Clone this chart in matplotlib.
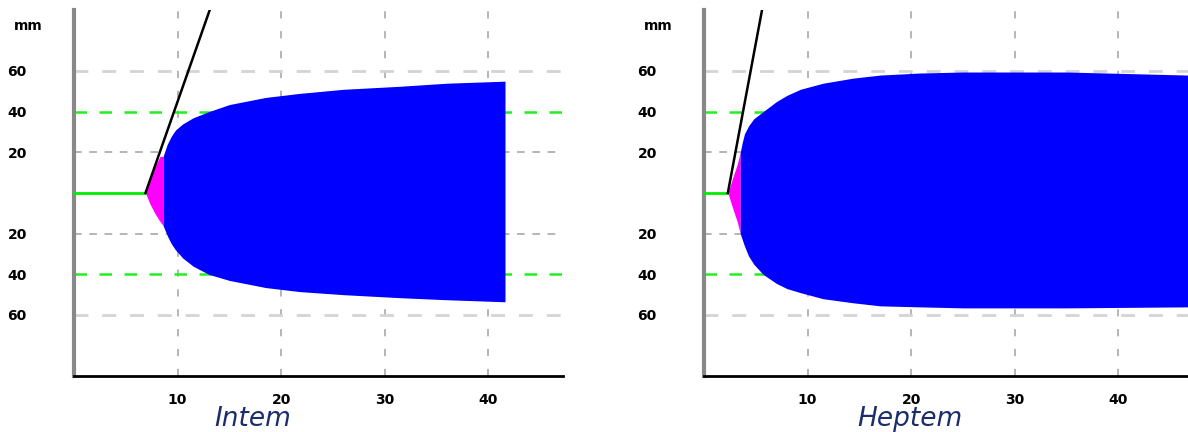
import numpy as np
import matplotlib.pyplot as plt

# panel names
names = ['Intem', 'Heptem']

# start of the envelope (mm along x) and the black line end at the top
start_x = [6.9, 2.3]
line_top_x = [13.1, 5.6]
pink_end = [8.6, 3.5]

# envelope, left panel
x_a = [6.9, 7.3, 7.8, 8.3, 8.6, 9.0, 9.4, 9.8, 10.5, 11.5, 13.0, 15.0, 18.5, 21.8, 26.0, 31.5, 36.0, 41.6]
top_a = [0, 6, 13, 18, 18, 24, 28, 31, 34, 37, 40, 43.5, 47, 49, 51, 52.5, 54, 55]
bot_a = [0, -5, -10, -14, -16, -21, -25, -28, -32, -36, -40, -43, -46.5, -48.5, -50, -51.5, -52.5, -53.5]

# envelope, right panel
x_b = [2.3, 2.8, 3.2, 3.5, 3.7, 3.9, 4.3, 4.8, 5.7, 7.0, 8.0, 9.3, 11.5, 14.4, 17.0, 20.8, 25.0, 35.0, 46.7]
top_b = [0, 8, 14, 20, 25, 29, 33, 36.5, 40, 45, 48, 51, 54, 56.5, 58, 59, 59.5, 59.5, 58]
bot_b = [0, -8, -14, -20, -23, -26, -31, -35, -40, -44.5, -47, -49, -52, -54, -55.5, -56, -56.5, -56.5, -56]

xs = [x_a, x_b]
tops = [top_a, top_b]
bots = [bot_a, bot_b]

yticks = [-60, -40, -20, 20, 40, 60]
xticks = [10, 20, 30, 40]

fig = plt.figure(figsize=(11.88, 4.32), dpi=100)
lefts = [74 / 1188, 704 / 1188]
w = 489 / 1188
title_x = [253 / 1188, 910 / 1188]

for i in range(2):
    ax = fig.add_axes([lefts[i], 56 / 432, w, 366 / 432])
    ax.set_xlim(0, 47.2)
    ax.set_ylim(-90, 90)

    # grid
    for xv in xticks:
        ax.axvline(xv, color='#b0b0b0', lw=1.3, dashes=(4, 7), zorder=1)
    for yv in [-60, 60]:
        ax.axhline(yv, color='#d4d4d4', lw=2, dashes=(5, 5), zorder=1)
    for yv in [-20, 20]:
        ax.axhline(yv, color='#a0a0a0', lw=1.1, dashes=(5, 5), zorder=1)
    for yv in [-40, 40]:
        ax.axhline(yv, color='#22ee22', lw=1.8, dashes=(5, 5), zorder=1)

    x = np.array(xs[i])
    t = np.array(tops[i])
    b = np.array(bots[i])
    pe = pink_end[i]
    m = x <= pe
    ax.fill_between(x[m], b[m], t[m], color='#ff00ff', lw=0, zorder=2)
    ax.fill_between(x[x >= pe], b[x >= pe], t[x >= pe], color='#0000ff', lw=0, zorder=3)

    ax.plot([0, start_x[i]], [0, 0], color='#00ee00', lw=2, zorder=4)
    ax.plot([start_x[i], line_top_x[i]], [0, 90], color='black', lw=1.8, zorder=5)

    for s in ['top', 'right']:
        ax.spines[s].set_visible(False)
    ax.spines['left'].set_color('#888888')
    ax.spines['left'].set_linewidth(3)
    ax.spines['bottom'].set_color('black')
    ax.spines['bottom'].set_linewidth(2)

    ax.set_xticks(xticks)
    ax.set_xticklabels([str(v) for v in xticks], fontsize=10, fontweight='bold')
    ax.set_yticks(yticks)
    ax.set_yticklabels([str(abs(v)) for v in yticks], fontsize=10, fontweight='bold')
    ax.tick_params(axis='both', length=0)
    ax.tick_params(axis='y', pad=34)
    ax.tick_params(axis='x', pad=12)
    ax.text(-4.4, 82, 'mm', fontsize=10, fontweight='bold', ha='center', va='center',
            clip_on=False)

    fig.text(title_x[i], 13 / 432, names[i], fontsize=19, style='italic',
             color='#1b2d6b', ha='center', va='center')

fig.savefig('out.png', dpi=100)
